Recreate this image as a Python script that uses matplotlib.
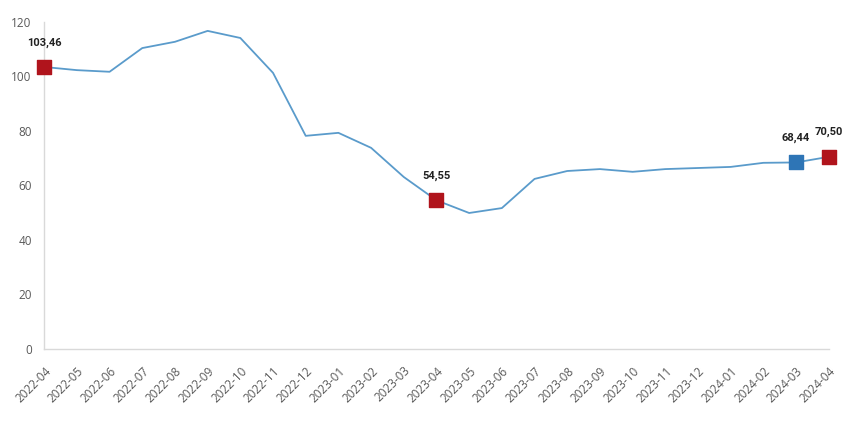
import numpy as np
import matplotlib
matplotlib.use('agg')
import matplotlib.pyplot as plt

# Data
months = ['2022-04', '2022-05', '2022-06', '2022-07', '2022-08', '2022-09',
          '2022-10', '2022-11', '2022-12', '2023-01', '2023-02', '2023-03',
          '2023-04', '2023-05', '2023-06', '2023-07', '2023-08', '2023-09',
          '2023-10', '2023-11', '2023-12', '2024-01', '2024-02', '2024-03',
          '2024-04']
values = [103.46, 102.3, 101.7, 110.4, 112.7, 116.7,
          114.1, 101.3, 78.2, 79.3, 73.8, 63.1,
          54.55, 49.9, 51.7, 62.4, 65.3, 66.0,
          65.0, 66.0, 66.4, 66.8, 68.3, 68.44,
          70.50]
red_idx = [0, 12, 24]
blue_idx = [23]

plt.rcParams['font.family'] = ['Open Sans', 'DejaVu Sans']

fig = plt.figure(figsize=(8.5, 4.21), dpi=100)
ax = fig.add_axes([0.052, 0.171, 0.923, 0.777])

x = np.arange(len(months))
ax.plot(x, values, color='#5a9bcb', linewidth=1.3, zorder=2)

for idx, col in [(red_idx, '#b0141c'), (blue_idx, '#2e75b6')]:
    ax.scatter(x[idx], [values[i] for i in idx], marker='s', s=100,
               color=col, edgecolors=col, zorder=3, clip_on=False)
    for i in idx:
        ax.annotate('{:.2f}'.format(values[i]).replace('.', ','),
                    (x[i], values[i]), xytext=(0, 14),
                    textcoords='offset points', ha='center', va='bottom',
                    fontsize=8, fontweight='bold', color='#222222',
                    family='Roboto')

ax.set_xlim(0, len(months) - 1)
ax.set_ylim(0, 120)
ax.set_yticks(range(0, 121, 20))
ax.set_xticks(x)
ax.set_xticklabels(months)
plt.setp(ax.get_xticklabels(), rotation=45, ha='right', va='top',
         rotation_mode='anchor', fontsize=8.5, color='#595959')
plt.setp(ax.get_yticklabels(), fontsize=8.5, color='#595959')
ax.tick_params(length=0)
ax.tick_params(axis='y', pad=9)
ax.tick_params(axis='x', pad=11)

plt.setp([ax.spines[s] for s in ['top', 'right']], visible=False)
for s in ['left', 'bottom']:
    ax.spines[s].set_color('#d9d9d9')
    ax.spines[s].set_linewidth(1)

fig.savefig('out.png', dpi=100)
